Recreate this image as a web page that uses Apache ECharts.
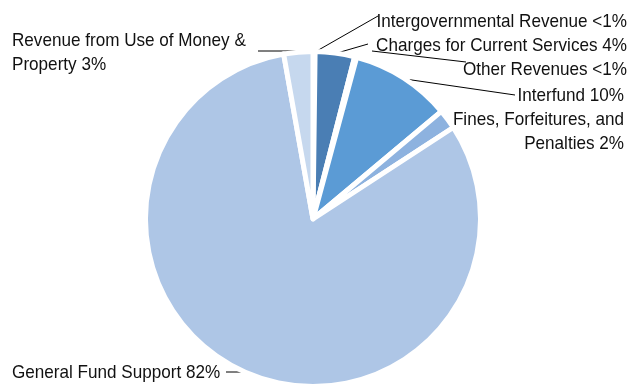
<!DOCTYPE html>
<html><head><meta charset="utf-8">
<script src="https://cdn.jsdelivr.net/npm/echarts@6/dist/echarts.min.js"></script>
<style>html,body{margin:0;padding:0;background:#fff}#c{width:630px;height:388px}</style>
</head><body><div id="c"></div>
<script>
var categories = ['Intergovernmental Revenue','Charges for Current Services','Other Revenues','Interfund','Fines, Forfeitures, and Penalties','General Fund Support','Revenue from Use of Money & Property'];
var values = [0.2, 3.8, 0.2, 9.7, 1.9, 81.4, 2.8];
var labelTexts = ['Intergovernmental Revenue <1%','Charges for Current Services 4%','Other Revenues <1%','Interfund 10%','Fines, Forfeitures, and\nPenalties 2%','General Fund Support 82%','Revenue from Use of Money &\nProperty 3%'];
var colors = ['#3f6fa3','#4a7eb4','#6f9fd0','#5b9bd5','#8db2df','#aec6e6','#c6d8ee'];

var labelPos = [
  {x:627,y:22,align:'right',pts:[[315,52],[378,16]]},
  {x:627,y:46,align:'right',pts:[[337,53],[368,44]]},
  {x:627,y:70,align:'right',pts:[[372,51],[466,62]]},
  {x:624,y:96,align:'right',pts:[[405,79],[515,95]]},
  {x:624,y:132,align:'right',pts:[[445,127],[447,116]]},
  {x:12,y:373,align:'left',pts:[[226,372],[246,372]]},
  {x:12,y:53,align:'left',pts:[[258,51],[301,51]]}
];

var chart = echarts.init(document.getElementById('c'), null, {renderer:'canvas'});
var data = categories.map(function(c,i){
  return {name:c, value:values[i], itemStyle:{color:colors[i]}};
});
var graphics = [];
labelTexts.forEach(function(t,i){
  var L = labelPos[i];
  graphics.push({type:'polyline', silent:true, shape:{points:L.pts}, style:{stroke:'#000',lineWidth:1,fill:null}});
  graphics.push({type:'text', silent:true, x:L.x, y:L.y, scaleX:0.9,
    style:{text:t, x:0, y:0, textAlign:L.align, textVerticalAlign:'middle',
      font:'19px "Liberation Sans", Arial, sans-serif', lineHeight:24, fill:'#111'}});
});
chart.setOption({
  animation:false,
  series:[{
    type:'pie',
    center:[313,219],
    radius:167.5,
    startAngle:90,
    clockwise:true,
    avoidLabelOverlap:false,
    itemStyle:{borderColor:'#fff',borderWidth:5},
    emphasis:{disabled:true},
    label:{show:false},
    labelLine:{show:false},
    data:data
  }],
  graphic:graphics
});
</script></body></html>
